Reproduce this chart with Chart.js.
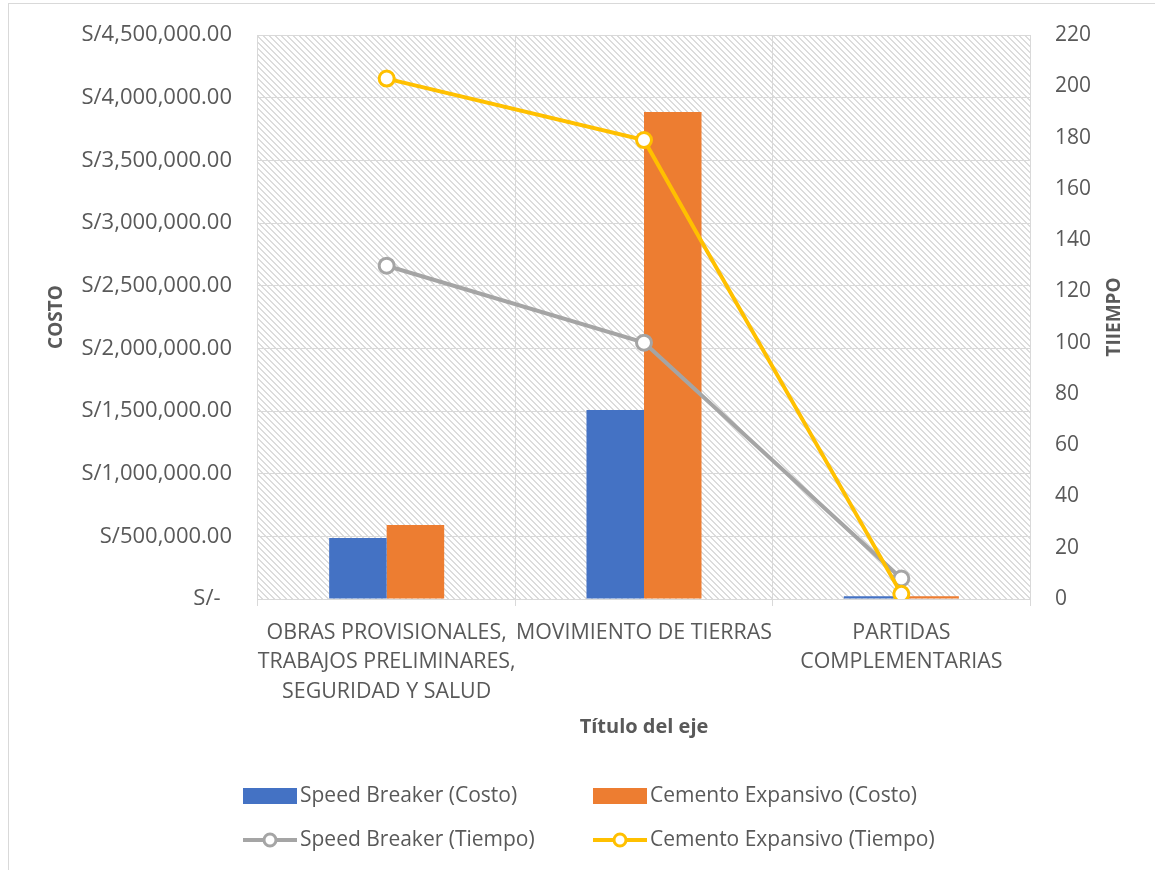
<!DOCTYPE html>
<html>
<head>
<meta charset="utf-8">
<script src="https://cdn.jsdelivr.net/npm/chart.js@4.4.0/dist/chart.umd.min.js"></script>
<style>
  html, body { margin: 0; padding: 0; background: #fff; overflow: hidden; }
  #frame { position: absolute; left: 8px; top: 3px; width: 1170px; height: 880px; border: 1px solid #d9d9d9; }
  #costChart { position: absolute; left: 0; top: 0; }
</style>
</head>
<body>
<div id="frame"></div>
<canvas id="costChart" width="1155" height="870"></canvas>
<script>
// Partidas y valores
const categories = [
  ['OBRAS PROVISIONALES,', 'TRABAJOS PRELIMINARES,', 'SEGURIDAD Y SALUD'],
  'MOVIMIENTO DE TIERRAS',
  ['PARTIDAS', 'COMPLEMENTARIAS']
];
const speedBreakerCosto = [487000, 1508000, 22000];
const cementoCosto = [590000, 3886000, 22000];
const speedBreakerTiempo = [130, 100, 8];
const cementoTiempo = [203, 179, 2];

// Ejes
const costoMax = 4500000;
const costoStep = 500000;
const tiempoMax = 220;
const tiempoStep = 20;

const FONT = "'Open Sans', sans-serif";
const TEXT = '#595959';
const GRID = '#d9d9d9';

function formatCosto(value) {
  if (value === 0) return 'S/-  ';
  return 'S/' + value.toLocaleString('en-US', { minimumFractionDigits: 2, maximumFractionDigits: 2 });
}

// Diagonal hatch fill behind the plot
function makeHatch(ctx) {
  const c = document.createElement('canvas');
  c.width = 6; c.height = 6;
  const g = c.getContext('2d');
  g.fillStyle = '#dcdcdc';
  for (let i = 0; i < 6; i++) {
    g.fillRect(i, i, 1, 1);
    g.fillRect(i, (i + 1) % 6, 1, 1);
  }
  return ctx.createPattern(c, 'repeat');
}

const hatchBackground = {
  id: 'hatchBackground',
  beforeDraw(chart) {
    const { ctx, chartArea } = chart;
    ctx.save();
    ctx.fillStyle = makeHatch(ctx);
    ctx.fillRect(chartArea.left, chartArea.top, chartArea.right - chartArea.left, chartArea.bottom - chartArea.top);
    ctx.restore();
  }
};

// Right axis title, read bottom to top
const rightTitle = {
  id: 'rightTitle',
  afterDraw(chart) {
    const { ctx, chartArea } = chart;
    ctx.save();
    ctx.translate(chart.scales.y1.right - 40, (chartArea.top + chartArea.bottom) / 2);
    ctx.rotate(-Math.PI / 2);
    ctx.font = 'bold 19px ' + FONT;
    ctx.fillStyle = TEXT;
    ctx.textAlign = 'center';
    ctx.textBaseline = 'middle';
    ctx.fillText('TIIEMPO', 0, 0);
    ctx.restore();
  }
};

// Two-column legend under the axis title
const gridLegend = {
  id: 'gridLegend',
  afterDraw(chart) {
    const { ctx } = chart;
    const ds = chart.data.datasets;
    const cols = [243, 593];
    const rows = [796, 840];
    ctx.save();
    ctx.font = '21px ' + FONT;
    ctx.textBaseline = 'middle';
    ctx.textAlign = 'left';
    ds.forEach((d, i) => {
      const x = cols[i % 2];
      const y = rows[Math.floor(i / 2)];
      if (d.type === 'line') {
        ctx.strokeStyle = d.borderColor;
        ctx.lineWidth = 4;
        ctx.beginPath();
        ctx.moveTo(x, y);
        ctx.lineTo(x + 54, y);
        ctx.stroke();
        ctx.lineWidth = 3;
        ctx.fillStyle = '#ffffff';
        ctx.beginPath();
        ctx.arc(x + 27, y, 6, 0, Math.PI * 2);
        ctx.fill();
        ctx.stroke();
      } else {
        ctx.fillStyle = d.backgroundColor;
        ctx.fillRect(x, y - 8, 54, 16);
      }
      ctx.fillStyle = TEXT;
      ctx.fillText(d.label, x + 57, y);
    });
    ctx.restore();
  }
};

const ctx = document.getElementById('costChart').getContext('2d');

new Chart(ctx, {
  data: {
    labels: categories,
    datasets: [
      {
        type: 'bar',
        label: 'Speed Breaker (Costo)',
        data: speedBreakerCosto,
        backgroundColor: '#4472c4',
        yAxisID: 'y',
        order: 3,
        categoryPercentage: 0.447,
        barPercentage: 1
      },
      {
        type: 'bar',
        label: 'Cemento Expansivo (Costo)',
        data: cementoCosto,
        backgroundColor: '#ed7d31',
        yAxisID: 'y',
        order: 3,
        categoryPercentage: 0.447,
        barPercentage: 1
      },
      {
        type: 'line',
        label: 'Speed Breaker (Tiempo)',
        data: speedBreakerTiempo,
        borderColor: '#a5a5a5',
        backgroundColor: '#ffffff',
        borderWidth: 4,
        pointRadius: 7.5,
        pointBorderWidth: 3,
        pointBackgroundColor: '#ffffff',
        pointBorderColor: '#a5a5a5',
        yAxisID: 'y1',
        order: 2
      },
      {
        type: 'line',
        label: 'Cemento Expansivo (Tiempo)',
        data: cementoTiempo,
        borderColor: '#ffc000',
        backgroundColor: '#ffffff',
        borderWidth: 4,
        pointRadius: 7.5,
        pointBorderWidth: 3,
        pointBackgroundColor: '#ffffff',
        pointBorderColor: '#ffc000',
        yAxisID: 'y1',
        order: 1
      }
    ]
  },
  options: {
    responsive: false,
    animation: false,
    layout: {
      padding: { top: 35, bottom: 131, left: 0, right: 0 }
    },
    plugins: {
      legend: { display: false },
      tooltip: { enabled: false }
    },
    scales: {
      x: {
        grid: { offset: true, color: GRID, tickLength: 7 },
        border: { display: false },
        ticks: {
          color: TEXT,
          font: { family: FONT, size: 21.4, lineHeight: 1.38 },
          padding: 12,
          maxRotation: 0,
          autoSkip: false
        },
        title: {
          display: true,
          text: 'Título del eje',
          color: TEXT,
          font: { family: FONT, size: 20, weight: 'bold' },
          padding: { top: 0, bottom: 0 }
        },
        afterFit(scale) { scale.height = 140; }
      },
      y: {
        position: 'left',
        min: 0,
        max: costoMax,
        grid: { color: GRID, drawTicks: false },
        border: { display: false },
        ticks: {
          stepSize: costoStep,
          callback: formatCosto,
          color: TEXT,
          font: { family: FONT, size: 22 },
          padding: 26
        },
        title: {
          display: true,
          text: 'COSTO',
          color: TEXT,
          font: { family: FONT, size: 19, weight: 'bold' },
          padding: { top: 45, bottom: 0 }
        },
        afterFit(scale) {
          scale.width = 258;
          scale.paddingTop = 14;
        }
      },
      y1: {
        position: 'right',
        min: 0,
        max: tiempoMax,
        grid: { drawOnChartArea: false, drawTicks: false },
        border: { display: false },
        ticks: {
          stepSize: tiempoStep,
          color: TEXT,
          font: { family: FONT, size: 21 },
          padding: 25
        },
        afterFit(scale) {
          scale.width = 125;
          scale.paddingTop = 14;
        }
      }
    }
  },
  plugins: [hatchBackground, rightTitle, gridLegend]
});
</script>
</body>
</html>
